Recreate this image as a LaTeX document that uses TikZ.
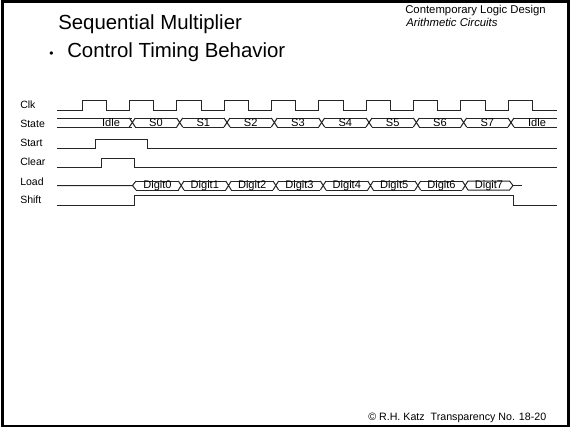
\documentclass[tikz,border=0pt]{standalone}
\usepackage{fontspec}
\setmainfont{Liberation Sans}
\begin{document}
\begin{tikzpicture}[x=0.75pt,y=-0.75pt,
  sig/.style={line width=0.75pt,draw=black!85},
  lbl/.style={anchor=base west,inner sep=0pt,font=\fontsize{7.9}{9}\selectfont},
  bus/.style={anchor=base,inner sep=0pt,font=\fontsize{8.3}{9}\selectfont},
  title/.style={anchor=base west,inner sep=0pt,font=\fontsize{15.3}{18}\selectfont},
  small/.style={anchor=base west,inner sep=0pt,font=\fontsize{8.5}{10}\selectfont}]
\useasboundingbox (0,0) rectangle (571,430);
\draw[line width=2.2pt] (2.7,1.5) rectangle (568.5,426);
% headers
\node[title] (t1) at (58,29) {Sequential Multiplier};
\node[anchor=base,inner sep=0pt,font=\fontsize{9}{10}\selectfont] (bul) at (51.5,57) {\textbullet};
\node[title] (t2) at (67,57) {Control Timing Behavior};
\node[small] (h1) at (405,13) {Contemporary Logic Design};
\node[small,font=\fontsize{8.5}{10}\itshape] (h2) at (406,26) {Arithmetic Circuits};
\node[anchor=base west,inner sep=0pt,font=\fontsize{8}{9}\selectfont] (ft) at (368,420.5) {\textcopyright\ R.H. Katz\ \ Transparency No. 18-20};
% labels
\node[lbl] (lclk) at (20,108.5) {Clk};
\node[lbl] (lstate) at (20,127.5) {State};
\node[lbl] (lstart) at (20,146.5) {Start};
\node[lbl] (lclear) at (20,165.5) {Clear};
\node[lbl] (lload) at (20,185) {Load};
\node[lbl] (lshift) at (20,203.5) {Shift};
% clock
\draw[sig] (57,110) foreach \k in {0,...,9} { -- ({82+47.333*\k},110) -- ({82+47.333*\k},100) -- ({106.5+47.333*\k},100) -- ({106.5+47.333*\k},110) } -- (557,110);
% state bus
\draw[sig] (57,118) -- (132.3,118) (57,127) -- (132.3,127);
\foreach \k in {1,...,9} {
  \pgfmathsetmacro\c{85+47.333*\k}
  \draw[sig] (\c-3,118) -- (\c+3,127) (\c-3,127) -- (\c+3,118);
}
\foreach \k in {1,...,8} {
  \pgfmathsetmacro\c{85+47.333*\k}
  \pgfmathsetmacro\n{85+47.333*(\k+1)}
  \draw[sig] (\c+3,118) -- (\n-3,118) (\c+3,127) -- (\n-3,127);
}
\draw[sig] (514,118) -- (557,118) (514,127) -- (557,127);
\node[bus] (sidle) at (111,126.5) {Idle};
\foreach \k/\s in {1/S0,2/S1,3/S2,4/S3,5/S4,6/S5,7/S6,8/S7} {
  \node[bus] (s\k) at ({85+47.333*\k+23.67},126.5) {\s};
}
\node[bus] (sidle2) at (537,126.5) {Idle};
% start
\draw[sig] (57,148.3) -- (95.7,148.3) -- (95.7,139.3) -- (147.7,139.3) -- (147.7,148.3) -- (557,148.3);
% clear
\draw[sig] (57,167.3) -- (101,167.3) -- (101,158.3) -- (134.3,158.3) -- (134.3,167.3) -- (557,167.3);
% load
\draw[sig] (57,185.5) -- (132.5,185.5) -- (136,181) (132.5,185.5) -- (136,190);
\foreach \k in {2,...,8} {
  \pgfmathsetmacro\c{86.5+47.333*\k}
  \draw[sig] (\c-2.8,181) -- (\c+2.8,190) (\c-2.8,190) -- (\c+2.8,181);
}
\draw[sig] (136,181) -- (178.87,181) (136,190) -- (178.87,190);
\foreach \k in {2,...,7} {
  \pgfmathsetmacro\c{86.5+47.333*\k}
  \pgfmathsetmacro\n{86.5+47.333*(\k+1)}
  \draw[sig] (\c+2.8,181) -- (\n-2.8,181) (\c+2.8,190) -- (\n-2.8,190);
}
\draw[sig] (467.97,181) -- (509.5,181) -- (513,185.5) -- (509.5,190) -- (467.97,190);
\draw[sig] (513,185.5) -- (522,185.5);
\node[bus] (d0) at (157.5,188.5) {Digit0};
\foreach \k/\s in {2/Digit1,3/Digit2,4/Digit3,5/Digit4,6/Digit5,7/Digit6} {
  \node[bus] (d\k) at ({86.5+47.333*\k+23.67},188.5) {\s};
}
\node[bus] (d8) at (489,188.5) {Digit7};
% shift
\draw[sig] (57,205) -- (134.3,205) -- (134.3,195.7) -- (513,195.7) -- (513,205) -- (557,205);
\end{tikzpicture}
\end{document}
